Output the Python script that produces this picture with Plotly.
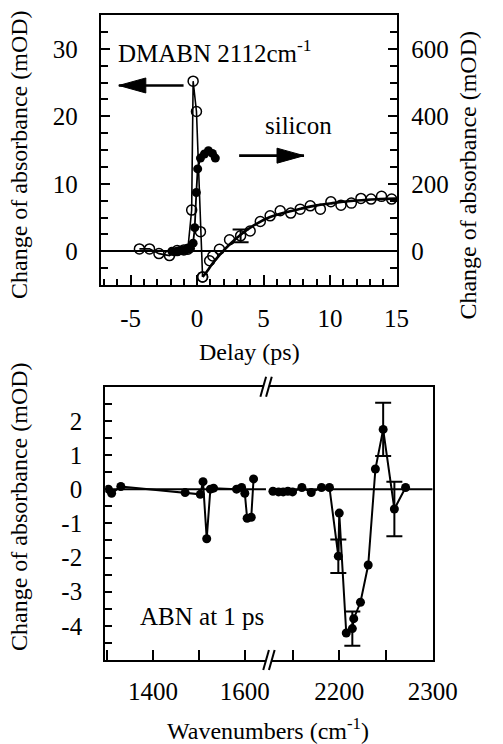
import plotly.graph_objects as go

W, H = 503, 744
FONT = "Liberation Serif, Times New Roman, Times, serif"

# ---------------- data: top panel (delay scan) ----------------
dmabn_delay = [-4.34, -3.58, -2.87, -2.08, -1.5, -1.0, -0.7, -0.41, -0.3, -0.05, 0.25, 0.41,
               0.94, 1.18, 1.68, 2.44, 3.27, 3.99, 4.75, 5.49, 6.25, 7.04, 7.75, 8.51,
               9.27, 10.06, 10.82, 11.6, 12.32, 13.08, 13.87, 14.63]
dmabn_signal = [0.35, 0.35, -0.35, -0.64, 0.1, 0.2, 0.3, 6.1, 25.2, 20.7, 2.9, -3.8,
                -1.4, -0.7, 0.3, 1.7, 2.28, 3.0, 4.4, 5.25, 6.0, 5.65, 6.24, 6.73,
                6.24, 7.33, 6.83, 7.13, 7.83, 7.73, 8.13, 7.73]
dmabn_err = [None] * 16 + [0.95] + [None] * 15
dmabn_connected_until = 0.41  # points up to this delay are joined by a line

fit_delay = [0.41, 0.66, 1.13, 1.73, 2.44, 3.27, 4.23, 5.4, 6.6, 7.8, 8.99, 10.18,
             11.37, 12.56, 13.75, 15.0]
fit_signal = [-3.8, -3.2, -1.9, -0.45, 1.0, 2.45, 3.8, 5.0, 5.74, 6.3, 6.8, 7.13,
              7.4, 7.58, 7.73, 7.8]

si_delay = [-1.9, -1.7, -1.5, -1.3, -1.1, -0.9, -0.7, -0.5, -0.3, -0.18, -0.06, 0.04,
            0.25, 0.55, 0.85, 1.15, 1.37]
si_signal = [0, -2, 0, 2, 2, 4, 6, 8, 24, 70, 174, 244, 276, 288, 298, 290, 276]

top_x_ticks = [-5, 0, 5, 10, 15]
top_x_labels = ["-5", "0", "5", "10", "15"]
top_yl_ticks = [0, 10, 20, 30]
top_yl_labels = ["0", "10", "20", "30"]
top_yr_ticks = [0, 200, 400, 600]
top_yr_labels = ["0", "200", "400", "600"]

# ---------------- data: bottom panel (ABN spectrum at 1 ps) ----------------
abn_wn_low = [1303, 1310, 1330, 1470, 1503, 1509, 1517, 1525, 1532, 1582, 1593, 1600,
              1605, 1614, 1619]
abn_dA_low = [0.0, -0.12, 0.08, -0.1, -0.15, 0.22, -1.45, 0.0, 0.03, 0.0, 0.05, -0.12,
              -0.85, -0.82, 0.3]
abn_wn_high = [2129, 2135, 2140, 2145, 2150, 2160, 2170, 2181, 2189.5, 2199, 2200,
               2207.5, 2214, 2215.5, 2222.7, 2231, 2238.7, 2247, 2259, 2271]
abn_dA_high = [-0.06, -0.08, -0.08, -0.06, -0.08, 0.05, -0.1, 0.05, 0.05, -1.96, -0.7,
               -4.21, -4.08, -3.79, -3.31, -2.22, 0.59, 1.75, -0.58, 0.05]
abn_err_high = [None] * 9 + [0.49] + [None] * 2 + [0.5] + [None] * 4 + [0.78, 0.8] + [None]

bot_y_ticks = [-4, -3, -2, -1, 0, 1, 2]
bot_y_labels = ["-4", "-3", "-2", "-1", "0", "1", "2"]
low_x_ticks = [1400, 1600]
low_x_labels = ["1400", "1600"]
high_x_ticks = [2200, 2300]
high_x_labels = ["2200", "2300"]

# ---------------- layout geometry (pixels) ----------------
TOP = dict(l=106, r=418, t=15, b=285)
BOT = dict(l=110.7, r=455.3, t=386.7, b=660, split=281.8)


def px(x):
    return x / W


def py(y):
    return 1 - y / H


fig = go.Figure()

# DMABN (left axis) - joined early part
early = [i for i, t in enumerate(dmabn_delay) if t <= dmabn_connected_until]
late = [i for i, t in enumerate(dmabn_delay) if t >= dmabn_connected_until]
fig.add_trace(go.Scatter(
    x=[dmabn_delay[i] for i in early], y=[dmabn_signal[i] for i in early],
    mode="lines+markers", xaxis="x", yaxis="y",
    line=dict(color="black", width=1.6),
    marker=dict(symbol="circle-open", size=10, color="black", line=dict(width=1.5))))
# exponential fit line
fig.add_trace(go.Scatter(x=fit_delay, y=fit_signal, mode="lines", xaxis="x", yaxis="y",
                         line=dict(color="black", width=2.6, shape="spline")))
# DMABN late points
fig.add_trace(go.Scatter(
    x=[dmabn_delay[i] for i in late], y=[dmabn_signal[i] for i in late],
    mode="markers", xaxis="x", yaxis="y",
    marker=dict(symbol="circle-open", size=10, color="black", line=dict(width=1.5))))
# DMABN error bar
ei = [i for i, e in enumerate(dmabn_err) if e is not None]
fig.add_trace(go.Scatter(
    x=[dmabn_delay[i] for i in ei], y=[dmabn_signal[i] for i in ei], mode="markers",
    xaxis="x", yaxis="y", marker=dict(size=1, color="rgba(0,0,0,0)"),
    error_y=dict(type="data", array=[dmabn_err[i] for i in ei], color="black",
                 thickness=2, width=8)))
# silicon (right axis)
fig.add_trace(go.Scatter(
    x=si_delay, y=si_signal, mode="lines+markers", xaxis="x", yaxis="y2",
    line=dict(color="black", width=1.8),
    marker=dict(symbol="circle", size=9, color="black")))

# bottom: low wavenumber segment
fig.add_trace(go.Scatter(
    x=abn_wn_low, y=abn_dA_low, mode="lines+markers", xaxis="x2", yaxis="y3",
    line=dict(color="black", width=2), marker=dict(size=9, color="black")))
# bottom: high wavenumber segment
fig.add_trace(go.Scatter(
    x=abn_wn_high, y=abn_dA_high, mode="lines+markers", xaxis="x3", yaxis="y4",
    line=dict(color="black", width=2), marker=dict(size=9, color="black")))
hi = [i for i, e in enumerate(abn_err_high) if e is not None]
fig.add_trace(go.Scatter(
    x=[abn_wn_high[i] for i in hi], y=[abn_dA_high[i] for i in hi], mode="markers",
    xaxis="x3", yaxis="y4", marker=dict(size=1, color="rgba(0,0,0,0)"),
    error_y=dict(type="data", array=[abn_err_high[i] for i in hi], color="black",
                 thickness=2, width=8)))

tickfont = dict(family=FONT, size=25, color="black")
common = dict(showgrid=False, showline=True, linecolor="black", linewidth=2,
              ticks="inside", tickcolor="black", tickwidth=2, tickfont=tickfont,
              tickmode="array", zeroline=False)

fig.update_layout(
    width=W, height=H, margin=dict(l=0, r=0, t=0, b=0),
    paper_bgcolor="white", plot_bgcolor="rgba(0,0,0,0)", showlegend=False,
    font=dict(family=FONT, size=25, color="black"),
    xaxis=dict(common, domain=[px(TOP["l"]), px(TOP["r"])], anchor="y",
               range=[-7.25, 15.05], tickvals=top_x_ticks, ticktext=top_x_labels,
               ticklen=10, mirror=True, ticklabelstandoff=10,
               minor=dict(dtick=1, tick0=0, ticks="inside", ticklen=6, tickwidth=2,
                          tickcolor="black")),
    yaxis=dict(common, domain=[py(TOP["b"]), py(TOP["t"])], anchor="x",
               range=[-5, 35], tickvals=top_yl_ticks, ticktext=top_yl_labels,
               ticklen=9, ticklabelstandoff=16, zeroline=True, zerolinecolor="black",
               zerolinewidth=2,
               minor=dict(dtick=2.5, tick0=0, ticks="inside", ticklen=7, tickwidth=2,
                          tickcolor="black")),
    yaxis2=dict(common, overlaying="y", side="right", anchor="x",
                range=[-100, 700], tickvals=top_yr_ticks, ticktext=top_yr_labels,
                ticklen=9, ticklabelstandoff=7,
                minor=dict(dtick=50, tick0=0, ticks="inside", ticklen=7, tickwidth=2,
                           tickcolor="black")),
    xaxis2=dict(common, domain=[px(BOT["l"]), px(BOT["split"])], anchor="y3",
                range=[1296, 1650], tickvals=low_x_ticks, ticktext=low_x_labels,
                ticklen=10, mirror=True, ticklabelstandoff=8,
                minor=dict(dtick=100, tick0=1300, ticks="inside", ticklen=10, tickwidth=2,
                           tickcolor="black")),
    xaxis3=dict(common, domain=[px(BOT["split"]), px(BOT["r"])], anchor="y4",
                range=[2123.5, 2300], tickvals=high_x_ticks, ticktext=high_x_labels,
                ticklen=10, mirror=True, ticklabelstandoff=8,
                minor=dict(dtick=50, tick0=2150, ticks="inside", ticklen=10, tickwidth=2,
                           tickcolor="black")),
    yaxis3=dict(common, domain=[py(BOT["b"]), py(BOT["t"])], anchor="x2",
                range=[-5, 3], tickvals=bot_y_ticks, ticktext=bot_y_labels,
                ticklen=7, ticklabelstandoff=16,
                minor=dict(dtick=0.5, tick0=0, ticks="inside", ticklen=7, tickwidth=2,
                           tickcolor="black")),
    yaxis4=dict(common, domain=[py(BOT["b"]), py(BOT["t"])], anchor="x3", matches="y3",
                side="right", ticks="", showticklabels=False),
)

# axis titles and labels
title_font = dict(family=FONT, size=24, color="black")
ann = [
    dict(text="Change of absorbance (mOD)", x=px(20), y=py(155), textangle=-90),
    dict(text="Change of absorbance (mOD)", x=px(492), y=py(175), textangle=-90),
    dict(text="Change of absorbance (mOD)", x=px(20), y=py(507), textangle=-90),
    dict(text="Delay (ps)", x=px(262.5), y=py(352)),
    dict(text="Wavenumbers (cm<sup>-1</sup>)", x=px(282.5), y=py(729)),
]
for a in ann:
    fig.add_annotation(xref="paper", yref="paper", showarrow=False, font=title_font,
                       xanchor="center", yanchor="middle", **a)

fig.add_annotation(xref="x", yref="y", x=-6.1, y=29.6, xanchor="left", yanchor="middle",
                   text="DMABN 2112cm<sup>-1</sup>", showarrow=False,
                   font=dict(family=FONT, size=25, color="black"))
fig.add_annotation(xref="x", yref="y", x=7.6, y=18.7, xanchor="center", yanchor="middle",
                   text="silicon", showarrow=False,
                   font=dict(family=FONT, size=25, color="black"))
fig.add_annotation(xref="x2", yref="y3", x=1367, y=-3.73, xanchor="left", yanchor="middle",
                   text="ABN at 1 ps", showarrow=False,
                   font=dict(family=FONT, size=25, color="black"))

# arrows (shaft + filled head)
arrows = [(-5.89, -1.02, 24.56, 1), (8.04, 3.16, 14.16, -1)]
for tip, tail, yv, d in arrows:
    fig.add_shape(type="line", xref="x", yref="y", x0=tip, x1=tail, y0=yv, y1=yv,
                  line=dict(color="black", width=2.6))
    fig.add_shape(type="path", xref="x", yref="y", xsizemode="pixel", ysizemode="pixel",
                  xanchor=tip, yanchor=yv,
                  path=f"M0,0 L{27*d},7.5 L{27*d},-7.5 Z",
                  fillcolor="black", line=dict(color="black", width=1))

# zero lines in the bottom panel (broken)
fig.add_shape(type="line", xref="x2", yref="y3", x0=1296, x1=1646, y0=0, y1=0,
              line=dict(color="black", width=2))
fig.add_shape(type="line", xref="x3", yref="y3", x0=2128, x1=2300, y0=0, y1=0,
              line=dict(color="black", width=2))

# axis break marks
for cx, cy in [(281, BOT["t"]), (284, BOT["b"])]:
    fig.add_shape(type="line", xref="paper", yref="paper", x0=px(cx - 4), x1=px(cx + 2),
                  y0=py(cy), y1=py(cy), line=dict(color="white", width=4))
    for off in (-4, 2):
        fig.add_shape(type="line", xref="paper", yref="paper",
                      x0=px(cx + off - 3), y0=py(cy + 10), x1=px(cx + off + 3), y1=py(cy - 10),
                      line=dict(color="black", width=2))

fig.write_html("out.html")
